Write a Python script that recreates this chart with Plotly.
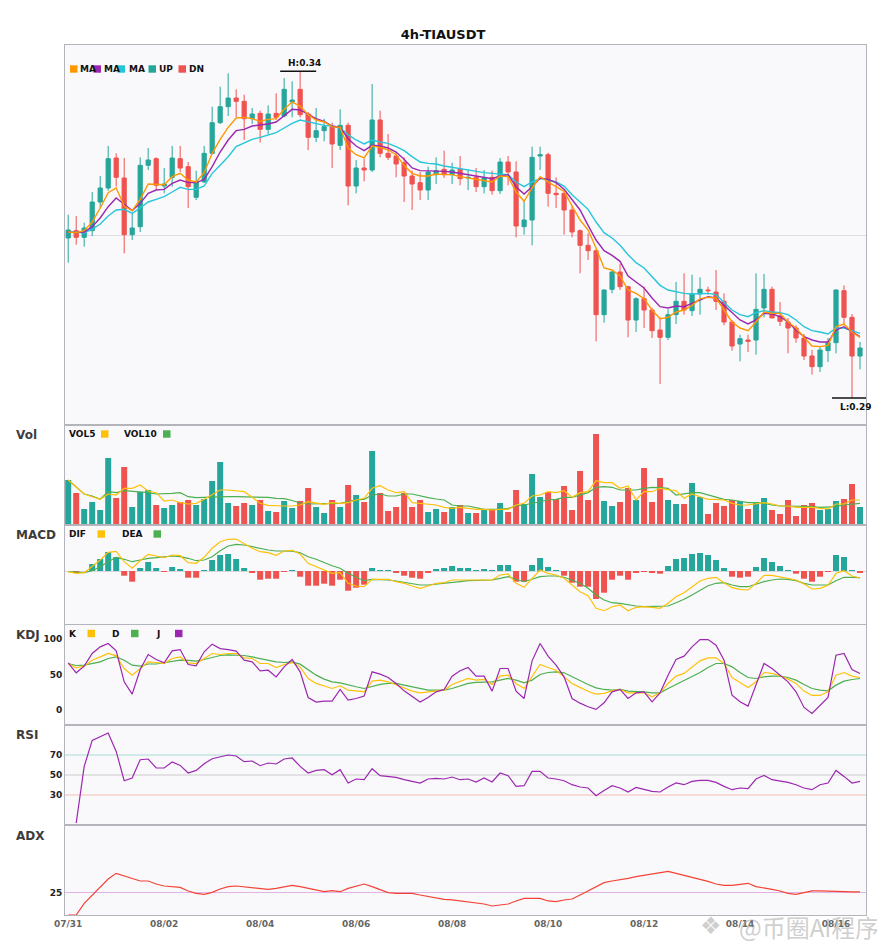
import plotly.graph_objects as go
from plotly.subplots import make_subplots

# 4h candles, 07/31 00:00 -> 08/16 12:00
date_labels = ['07/31', '08/02', '08/04', '08/06', '08/08', '08/10', '08/12', '08/14', '08/16']

opens = [
    .3151, .3162, .3152, .3162, .3205, .3226, .3271, .3241, .3156, .3168,
    .3260, .3270, .3229, .3242, .3270, .3258, .3212, .3235, .3278, .3324,
    .3348, .3361, .3356, .3330, .3338, .3314, .3338, .3334, .3355, .3374,
    .3337, .3302, .3312, .3318, .3290, .3320, .3229, .3256, .3253, .3328,
    .3278, .3274, .3264, .3244, .3234, .3223, .3246, .3254, .3246, .3254,
    .3241, .3242, .3228, .3242, .3222, .3265, .3250, .3168, .3178, .3274,
    .3276, .3218, .3218, .3193, .3162, .3140, .3132, .3036, .3074, .3100,
    .3078, .3028, .3060, .3043, .3013, .3002, .3036, .3056, .3042, .3067,
    .3073, .3070, .3056, .3025, .2992, .2998, .2998, .3046, .3074, .3034,
    .3025, .3016, .3001, .2974, .2958, .2982, .2994, .3072, .3032, .2974,
]
highs = [
    .3186, .3184, .3174, .3220, .3244, .3289, .3278, .3271, .3188, .3272,
    .3286, .3272, .3256, .3289, .3289, .3265, .3252, .3289, .3348, .3378,
    .3398, .3374, .3366, .3346, .3342, .3350, .3368, .3391, .3386, .3401,
    .3340, .3346, .3330, .3324, .3344, .3324, .3268, .3270, .3382, .3342,
    .3307, .3280, .3272, .3252, .3250, .3258, .3272, .3282, .3264, .3274,
    .3253, .3256, .3253, .3252, .3271, .3274, .3266, .3208, .3288, .3288,
    .3279, .3242, .3220, .3200, .3164, .3158, .3134, .3074, .3102, .3112,
    .3079, .3062, .3078, .3046, .3032, .3044, .3085, .3098, .3096, .3092,
    .3078, .3103, .3068, .3028, .3006, .3006, .3098, .3097, .3078, .3055,
    .3031, .3020, .3007, .2983, .2989, .3001, .3074, .3080, .3037, .2995,
]
lows = [
    .3114, .3141, .3138, .3154, .3196, .3222, .3228, .3128, .3148, .3160,
    .3253, .3223, .3218, .3228, .3250, .3196, .3208, .3234, .3276, .3322,
    .3334, .3332, .3298, .3322, .3294, .3306, .3328, .3332, .3332, .3332,
    .3283, .3295, .3296, .3256, .3283, .3200, .3218, .3236, .3250, .3272,
    .3268, .3242, .3205, .3193, .3208, .3208, .3232, .3241, .3232, .3230,
    .3223, .3220, .3218, .3216, .3217, .3230, .3152, .3156, .3140, .3253,
    .3198, .3196, .3156, .3152, .3098, .3118, .2996, .3024, .3068, .3073,
    .3002, .3010, .3016, .3001, .2932, .2998, .3022, .3036, .3034, .3036,
    .3066, .3043, .3020, .2982, .2966, .2980, .2976, .3032, .3031, .3019,
    .2978, .2994, .2968, .2946, .2950, .2965, .2978, .3020, .2911, .2954,
]
closes = [
    .3163, .3152, .3166, .3205, .3226, .3270, .3242, .3156, .3166, .3260,
    .3268, .3230, .3232, .3271, .3256, .3228, .3235, .3278, .3324, .3348,
    .3361, .3356, .3330, .3337, .3314, .3337, .3332, .3374, .3358, .3336,
    .3302, .3312, .3318, .3292, .3320, .3229, .3256, .3253, .3328, .3278,
    .3272, .3262, .3244, .3232, .3223, .3250, .3252, .3246, .3253, .3240,
    .3242, .3228, .3241, .3222, .3265, .3250, .3169, .3178, .3272, .3276,
    .3218, .3216, .3193, .3160, .3140, .3132, .3036, .3073, .3100, .3078,
    .3028, .3060, .3043, .3012, .3002, .3036, .3056, .3043, .3067, .3074,
    .3072, .3056, .3025, .2989, .3000, .2996, .3044, .3074, .3031, .3026,
    .3016, .3001, .2974, .2958, .2983, .2994, .3073, .3032, .2974, .2986,
]

ma5 = [
    .3160, .3159, .3162, .3175, .3196, .3219, .3226, .3199, .3192, .3209,
    .3232, .3232, .3231, .3243, .3248, .3238, .3235, .3249, .3278, .3299,
    .3317, .3331, .3332, .3330, .3326, .3329, .3330, .3344, .3355, .3349,
    .3336, .3328, .3325, .3318, .3317, .3286, .3276, .3271, .3289, .3287,
    .3283, .3276, .3260, .3248, .3244, .3244, .3247, .3246, .3246, .3243,
    .3241, .3239, .3238, .3235, .3244, .3243, .3220, .3206, .3226, .3243,
    .3235, .3228, .3221, .3199, .3178, .3163, .3136, .3106, .3103, .3094,
    .3073, .3068, .3060, .3043, .3030, .3032, .3040, .3043, .3050, .3060,
    .3062, .3061, .3043, .3025, .3016, .3012, .3025, .3040, .3038, .3038,
    .3025, .3016, .3002, .2989, .2988, .2990, .3018, .3022, .3010, .3002,
]
ma10 = [
    .3160, .3159, .3160, .3168, .3181, .3198, .3211, .3202, .3192, .3203,
    .3218, .3223, .3224, .3233, .3238, .3234, .3234, .3239, .3258, .3280,
    .3298, .3312, .3314, .3319, .3320, .3322, .3325, .3334, .3344, .3343,
    .3336, .3330, .3326, .3319, .3317, .3300, .3289, .3282, .3290, .3289,
    .3286, .3280, .3269, .3256, .3252, .3252, .3252, .3251, .3250, .3248,
    .3246, .3243, .3241, .3240, .3244, .3246, .3228, .3217, .3228, .3241,
    .3239, .3234, .3224, .3208, .3193, .3170, .3148, .3132, .3125, .3116,
    .3094, .3085, .3076, .3061, .3048, .3046, .3049, .3048, .3053, .3059,
    .3063, .3061, .3050, .3038, .3028, .3022, .3028, .3038, .3037, .3033,
    .3025, .3013, .3003, .2998, .2995, .2995, .3013, .3018, .3010, .3003,
]
ma20 = [
    .3160, .3159, .3159, .3164, .3172, .3184, .3193, .3194, .3188, .3196,
    .3205, .3209, .3213, .3220, .3227, .3224, .3224, .3229, .3248, .3260,
    .3273, .3288, .3294, .3299, .3302, .3306, .3309, .3316, .3323, .3328,
    .3325, .3323, .3320, .3319, .3316, .3306, .3298, .3292, .3298, .3295,
    .3293, .3288, .3282, .3273, .3265, .3263, .3262, .3259, .3257, .3254,
    .3252, .3250, .3249, .3248, .3247, .3246, .3235, .3228, .3235, .3240,
    .3238, .3235, .3229, .3216, .3205, .3194, .3175, .3159, .3151, .3140,
    .3126, .3114, .3106, .3093, .3080, .3073, .3070, .3068, .3067, .3067,
    .3068, .3066, .3055, .3043, .3036, .3033, .3039, .3042, .3040, .3039,
    .3036, .3028, .3018, .3012, .3010, .3007, .3016, .3016, .3012, .3008,
]

# volume in millions
volume = [
    4.5, 3.2, 1.6, 2.3, 1.5, 6.7, 2.7, 5.8, 1.8, 3.3,
    3.5, 2.0, 1.7, 2.0, 2.3, 2.5, 2.0, 2.6, 4.4, 6.3,
    2.2, 1.9, 2.2, 2.0, 2.5, 1.4, 1.3, 2.4, 1.7, 2.4,
    3.7, 1.8, 1.2, 2.5, 1.8, 4.0, 3.0, 2.3, 7.4, 3.2,
    1.4, 1.8, 3.2, 1.8, 2.5, 1.3, 1.6, 1.3, 1.8, 2.0,
    1.2, 1.2, 1.6, 1.5, 2.2, 1.3, 3.5, 2.1, 5.1, 2.8,
    3.3, 2.6, 3.9, 1.5, 5.4, 2.5, 9.1, 2.4, 1.9, 2.3,
    3.7, 2.5, 5.7, 2.3, 4.7, 2.5, 2.1, 2.1, 4.2, 2.8,
    1.1, 2.2, 1.9, 2.5, 2.4, 1.6, 2.3, 2.7, 1.5, 1.1,
    2.5, 0.9, 2.0, 2.2, 1.5, 1.6, 2.4, 2.6, 4.1, 1.8,
]
vol5 = [
    4.5, 3.83, 3.1, 2.83, 2.57, 3.1, 3.0, 3.67, 3.67, 4.0,
    3.4, 3.23, 2.4, 2.5, 2.23, 2.1, 2.17, 2.57, 3.0, 3.5,
    3.5, 3.43, 3.33, 2.77, 2.17, 1.97, 1.9, 1.9, 1.9, 2.0,
    2.33, 2.23, 2.07, 2.23, 2.17, 2.23, 2.5, 2.67, 3.67, 3.93,
    3.5, 3.23, 3.33, 2.23, 2.17, 2.1, 2.0, 1.77, 1.67, 1.77,
    1.67, 1.57, 1.57, 1.5, 1.57, 1.57, 2.0, 2.17, 2.9, 3.0,
    3.33, 3.23, 3.43, 2.77, 3.23, 3.33, 4.43, 4.23, 4.23, 3.67,
    3.9, 2.5, 3.33, 3.33, 3.67, 3.57, 3.43, 2.67, 3.1, 2.83,
    2.57, 2.57, 2.5, 2.17, 2.0, 2.0, 2.1, 2.23, 2.1, 1.9,
    1.9, 1.77, 1.77, 1.77, 1.67, 1.6, 2.1, 2.1, 2.5, 2.5,
]
vol10 = [
    4.5, 3.83, 3.1, 2.9, 2.57, 3.33, 3.23, 3.43, 3.37, 3.33,
    3.23, 3.1, 3.1, 3.17, 3.23, 2.83, 2.73, 2.77, 2.77, 2.83,
    2.83, 2.83, 2.83, 2.83, 2.83, 2.77, 2.67, 2.63, 2.45, 2.2,
    2.1, 2.1, 2.1, 2.17, 2.17, 2.33, 2.5, 2.57, 3.0, 3.1,
    2.9, 2.9, 3.1, 3.1, 2.9, 2.73, 2.6, 2.5, 2.0, 1.9,
    1.9, 1.77, 1.57, 1.57, 1.57, 1.67, 1.9, 2.0, 2.17, 2.33,
    2.5, 2.57, 2.77, 2.77, 3.0, 3.23, 3.77, 3.83, 3.77, 3.5,
    3.5, 3.5, 3.67, 3.77, 3.73, 3.67, 3.0, 3.1, 3.23, 3.23,
    3.0, 2.83, 2.57, 2.5, 2.33, 2.23, 2.23, 2.17, 2.0, 1.9,
    1.9, 1.9, 1.9, 1.83, 1.77, 1.77, 1.83, 2.0, 2.1, 2.17,
]

# MACD (x1e-3)
macd_hist = [
    0.0, -0.17, 0.0, 0.7, 1.2, 1.9, 1.4, -0.47, -1.07, 0.3,
    0.9, 0.3, -0.05, 0.4, 0.2, -0.67, -0.67, 0.1, 1.1, 1.6,
    1.7, 1.2, 0.3, -0.17, -0.87, -0.77, -0.77, -0.07, 0.1, -0.57,
    -1.47, -1.47, -1.27, -1.47, -0.87, -1.97, -1.67, -1.37, 0.3, 0.1,
    0.03, -0.17, -0.47, -0.67, -0.77, -0.17, 0.2, 0.3, 0.5, 0.3,
    0.3, 0.03, 0.2, 0.03, 0.6, 0.6, -1.07, -1.07, 0.6, 1.3,
    0.4, 0.03, -0.47, -1.17, -1.57, -1.57, -2.8, -2.17, -0.87, -0.47,
    -0.87, -0.17, -0.03, -0.17, -0.27, 0.5, 1.2, 1.3, 1.7, 1.8,
    1.6, 1.1, 0.3, -0.57, -0.67, -0.57, 0.4, 1.3, 0.9, 0.5,
    0.1, -0.27, -0.77, -1.07, -0.57, -0.07, 1.6, 1.4, 0.1, -0.17,
]
dif = [
    -0.07, -0.23, -0.17, 0.43, 1.1, 1.87, 1.97, 0.93, 0.27, 1.03,
    1.67, 1.5, 1.33, 1.6, 1.53, 0.83, 0.77, 1.37, 2.27, 2.93,
    3.17, 3.2, 2.7, 2.27, 1.93, 1.83, 1.57, 2.0, 2.07, 1.7,
    0.77, 0.43, 0.17, -0.23, -0.17, -1.23, -1.5, -1.57, -0.83, -0.8,
    -0.83, -1.07, -1.23, -1.5, -1.73, -1.5, -1.23, -1.17, -0.9, -0.9,
    -0.9, -0.97, -0.9, -0.9, -0.4, -0.3, -1.23, -1.63, -0.73, 0.1,
    -0.23, -0.4, -0.73, -1.4, -2.07, -2.47, -3.73, -3.97, -3.57, -3.4,
    -3.97, -3.63, -3.57, -3.63, -3.73, -3.23, -2.57, -2.17, -1.57, -1.0,
    -0.73, -0.63, -1.17, -1.67, -1.83, -1.9, -1.23, -0.43, -0.43, -0.57,
    -0.73, -0.9, -1.3, -1.8, -1.73, -1.43, -0.23, 0.03, -0.5, -0.7,
]
dea = [
    -0.07, -0.1, -0.17, 0.03, 0.43, 0.93, 1.37, 1.17, 0.93, 1.1,
    1.27, 1.33, 1.43, 1.5, 1.43, 1.27, 1.03, 1.1, 1.43, 2.03,
    2.5, 2.67, 2.6, 2.43, 2.27, 2.1, 2.0, 2.0, 1.98, 1.83,
    1.43, 1.17, 0.83, 0.53, 0.27, -0.23, -0.63, -0.97, -0.83, -0.83,
    -0.9, -1.0, -1.13, -1.3, -1.4, -1.4, -1.33, -1.23, -1.17, -1.07,
    -0.97, -0.97, -0.93, -0.9, -0.73, -0.57, -0.83, -1.07, -0.83, -0.57,
    -0.5, -0.5, -0.63, -0.9, -1.23, -1.73, -2.4, -2.9, -3.17, -3.23,
    -3.4, -3.5, -3.57, -3.57, -3.57, -3.5, -3.17, -2.83, -2.4, -1.9,
    -1.47, -1.23, -1.17, -1.4, -1.57, -1.57, -1.3, -1.07, -0.9, -0.8,
    -0.83, -0.97, -1.23, -1.4, -1.4, -1.4, -0.97, -0.63, -0.63, -0.67,
]

k_line = [
    65.7, 59.6, 62, 70.4, 75, 79.8, 76.5, 58.7, 49.3, 58.7,
    68, 67.1, 65.7, 72.8, 75, 66.7, 65.7, 72.8, 79.8, 78.4,
    79.8, 79.8, 73.7, 72.8, 65.7, 65.7, 60.1, 64.3, 67, 61,
    44.6, 37.6, 34.3, 30.5, 34.3, 28.2, 27.2, 25.8, 40.8, 42.3,
    39.9, 35.2, 30.5, 26.8, 24.4, 25.4, 27.2, 28.2, 36.2, 39.9,
    44.6, 42.3, 43.2, 36.2, 47.9, 49.3, 37.6, 30.5, 47.9, 64.3,
    60.1, 56.3, 46.9, 37.6, 32, 26.5, 22.5, 23.5, 27.2, 29.1,
    24.4, 24.4, 24.4, 18.8, 24.4, 37.6, 47.9, 51.7, 61, 69.5,
    73.7, 73.7, 65.7, 46, 39, 32, 39.9, 53, 51.7, 48.4,
    43.7, 37.6, 26.8, 20.7, 20.7, 25.8, 49.3, 53, 47.9, 46,
]
d_line = [
    65.7, 62.9, 63.4, 65.7, 68, 72.8, 75, 70.4, 63.4, 62,
    65, 65, 66.7, 69.1, 70.4, 70, 69.1, 71.4, 74.2, 77,
    77.9, 77.9, 77, 75, 72.8, 70.4, 68, 67.1, 68, 64.8,
    57.3, 49.3, 43.7, 39.9, 38.5, 35.2, 32.9, 30.5, 33.8, 36.2,
    37.6, 37.6, 35.2, 32.9, 30.5, 28.2, 28.2, 28.2, 30.5, 34.3,
    37.6, 39, 39.9, 39.9, 42.3, 44.6, 42.3, 38.5, 42.3, 50.2,
    53, 54, 52.6, 46.9, 42.3, 36, 31.4, 29.1, 28.2, 29.1,
    26.8, 26.8, 25.8, 24.4, 24.4, 30.5, 36.2, 40.8, 46.9, 53,
    60.1, 65.7, 65.7, 61, 53, 46, 44.6, 46.9, 47.9, 47.9,
    46, 42.3, 36.2, 30.5, 28.2, 27.2, 35.2, 40.8, 43.2, 44.6,
]
j_line = [
    66.7, 52.6, 62, 79.8, 89.2, 93.9, 83.6, 39.9, 22.5, 57.3,
    78.4, 71.4, 66.7, 83.6, 85.4, 64.3, 62.4, 82.2, 93, 86.8,
    85.4, 83.1, 70.4, 68, 55.4, 56.3, 46.9, 61, 71.4, 54,
    17.8, 11.3, 12.7, 12.7, 29.1, 14.1, 16.4, 19.7, 54, 50.7,
    46, 37.6, 27.2, 18.8, 11.3, 17.8, 25.8, 29.1, 47.9, 55.4,
    60.1, 47.9, 47.9, 26.8, 58.7, 58.7, 26.8, 16.4, 69.5, 93.9,
    76.1, 63.4, 46.9, 16.4, 9.8, 4.7, 1, 10.3, 25.8, 29.1,
    16.4, 24.4, 25.8, 11.7, 24.4, 49.3, 71.4, 76.1, 89.2, 99.5,
    99.5, 91.5, 70.4, 21.1, 11.7, 5.6, 35.2, 65.7, 58.7, 49.3,
    39.9, 25.8, 3.8, -4.6, 7, 17.8, 77.5, 79.8, 57.3, 51.7,
]

rsi = [
    None, 2, 58.6, 84.6, 88, 92, 73.6, 44.3, 47, 65.3,
    66, 57, 57, 63, 59.6, 52, 54.6, 61.3, 66.3, 68.3,
    70, 69, 63.3, 64, 59.3, 62, 61, 66, 67, 58.6,
    52, 54.6, 55.3, 50.3, 55.3, 42, 46, 45.3, 56.3, 49.3,
    48.6, 47.6, 45.3, 43.3, 42, 46, 46.6, 46, 48, 45.3,
    46, 43, 47, 43, 52, 49.3, 38.6, 39.3, 53.6, 53.6,
    47, 46, 44.3, 40.3, 38, 37, 29.3, 34.6, 39.3, 37,
    33, 37.6, 35.3, 33.6, 33, 38, 42, 40.3, 43.6, 44.6,
    44.6, 42.6, 38.6, 35.3, 37, 36.3, 46, 49.6, 45.3, 44,
    42.6, 40.3, 37, 35.3, 40.3, 42, 54.6, 48.6, 42, 43.6,
]
adx = [
    0, 0, 13, 22.2, 31.5, 40, 46.3, 43.3, 40, 37.8,
    37.8, 34.4, 32.2, 31.1, 30.7, 26.7, 24.1, 23, 25.2, 28.9,
    31.5, 32.2, 31.1, 30.7, 29.6, 28.5, 29.6, 31.5, 33, 31.5,
    29.6, 27.8, 25.9, 27, 25.9, 29.6, 32.2, 34.4, 31.5, 28.5,
    24.8, 24.1, 24.1, 24.1, 22.2, 20.4, 18.5, 17.4, 16.7, 15.6,
    14.4, 13.3, 12.2, 10, 11.1, 12.2, 15.6, 18.5, 18.5, 18.5,
    15.6, 14.8, 16.7, 17.8, 22.2, 26.5, 31.5, 35.9, 37.8, 38.9,
    40.7, 42.6, 44.1, 45.2, 47, 48.5, 46.3, 44.1, 41.9, 39.6,
    37.4, 34.4, 33, 33, 34.1, 35.2, 31.5, 29.6, 28.5, 26.7,
    24.1, 23, 24.8, 26.7, 26.7, 26.3, 25.6, 25.6, 25.6, 25.6,
]

# colours
UP = '#26a69a'
DN = '#ef5350'
ORANGE = '#ff9800'
PURPLE = '#9c27b0'
CYAN = '#26c6da'
YELLOW = '#ffc107'
GREEN = '#4caf50'
FRAME = '#b4b4bc'
BG = '#f9f9fb'
FONT = 'DejaVu Sans'

W, H = 885, 950
ML, MR, MT, MB = 57, 27, 37, 43
PAGE = 8  # body margin of the html page


def px_x(x):
    return (x - PAGE - ML) / (W - ML - MR)


def px_y(y):
    return (H - MB - (y - PAGE)) / (H - MT - MB)


n = len(closes)
idx = list(range(n))

fig = make_subplots(rows=6, cols=1, shared_xaxes=True, vertical_spacing=0,
                    row_heights=[380, 100, 100, 100, 100, 90])

# price
fig.add_trace(go.Candlestick(
    x=idx, open=opens, high=highs, low=lows, close=closes,
    increasing=dict(line=dict(color=UP, width=1), fillcolor=UP),
    decreasing=dict(line=dict(color=DN, width=1), fillcolor=DN),
    whiskerwidth=0, showlegend=False), row=1, col=1)
for series, color in [(ma20, CYAN), (ma10, PURPLE), (ma5, ORANGE)]:
    fig.add_trace(go.Scatter(x=idx, y=series, mode='lines',
                             line=dict(color=color, width=1.4)), row=1, col=1)

# volume
vol_colors = [UP if c >= o else DN for o, c in zip(opens, closes)]
fig.add_trace(go.Bar(x=idx, y=volume, marker_color=vol_colors, marker_line_width=0,
                     width=0.75), row=2, col=1)
fig.add_trace(go.Scatter(x=idx, y=vol10, mode='lines', line=dict(color=GREEN, width=1.2)), row=2, col=1)
fig.add_trace(go.Scatter(x=idx, y=vol5, mode='lines', line=dict(color=YELLOW, width=1.2)), row=2, col=1)

# MACD
hist_colors = [UP if v >= 0 else DN for v in macd_hist]
fig.add_trace(go.Bar(x=idx, y=macd_hist, marker_color=hist_colors, marker_line_width=0,
                     width=0.75), row=3, col=1)
fig.add_trace(go.Scatter(x=idx, y=dea, mode='lines', line=dict(color=GREEN, width=1.2)), row=3, col=1)
fig.add_trace(go.Scatter(x=idx, y=dif, mode='lines', line=dict(color=YELLOW, width=1.2)), row=3, col=1)

# KDJ
fig.add_trace(go.Scatter(x=idx, y=d_line, mode='lines', line=dict(color=GREEN, width=1.2)), row=4, col=1)
fig.add_trace(go.Scatter(x=idx, y=k_line, mode='lines', line=dict(color=YELLOW, width=1.2)), row=4, col=1)
fig.add_trace(go.Scatter(x=idx, y=j_line, mode='lines', line=dict(color=PURPLE, width=1.2)), row=4, col=1)

# RSI
fig.add_trace(go.Scatter(x=idx, y=rsi, mode='lines', line=dict(color=PURPLE, width=1.2)), row=5, col=1)

# ADX
fig.add_trace(go.Scatter(x=idx, y=adx, mode='lines', line=dict(color='#f44336', width=1.2)), row=6, col=1)

# reference lines
for row, yv, col in [(4, 100, '#a9dcd7'), (4, 50, '#cccccc'), (4, 0, '#f9b9b9'),
                     (5, 70, '#a9dcd7'), (5, 50, '#cccccc'), (5, 30, '#f9b9b9'),
                     (6, 25, '#dfb3e6')]:
    fig.add_hline(y=yv, line=dict(color=col, width=1), layer='below', row=row, col=1)

tick_font = dict(family=FONT, size=9, color='#222', weight='bold')
axis_common = dict(showline=True, mirror=True, linecolor=FRAME, linewidth=1,
                   zeroline=False, ticks='', showspikes=False)

for r in range(1, 7):
    fig.update_xaxes(range=[-0.4, n - 0.25], showgrid=False, rangeslider_visible=False,
                     row=r, col=1, **axis_common)
fig.update_xaxes(tickvals=[i * 12 for i in range(len(date_labels))], ticktext=date_labels,
                 tickfont=dict(family=FONT, size=9, color='#666', weight='bold'),
                 row=6, col=1)

fig.update_yaxes(range=[0.28705, 0.34405], tickvals=[0.31555], showticklabels=False,
                 showgrid=True, gridcolor='#dcdce4', row=1, col=1, **axis_common)
fig.update_yaxes(range=[0, 10], showticklabels=False, showgrid=False, row=2, col=1, **axis_common)
fig.update_yaxes(range=[-5.4, 4.6], tickvals=[0], showticklabels=False, showgrid=True,
                 gridcolor='#d8d8dc', row=3, col=1, **axis_common)
fig.update_yaxes(range=[-21, 120], tickvals=[0, 50, 100], showgrid=False, tickfont=tick_font,
                 row=4, col=1, **axis_common)
fig.update_yaxes(range=[0, 100], tickvals=[30, 50, 70], showgrid=False, tickfont=tick_font,
                 row=5, col=1, **axis_common)
fig.update_yaxes(range=[0, 100], tickvals=[25], showgrid=False, tickfont=tick_font,
                 row=6, col=1, **axis_common)

# high / low markers
hi = max(highs)
hi_i = highs.index(hi)
lo = min(lows)
lo_i = lows.index(lo)
for i, v, anchor, shift, txt in [(hi_i, hi, 'bottom', 1, f'H:{hi:.2f}'),
                                 (lo_i, lo, 'top', -2, f'L:{lo:.2f}')]:
    fig.add_shape(type='line', x0=i - 2.5, x1=i + 2, y0=v, y1=v, xref='x', yref='y',
                  line=dict(color='#111', width=1.5))
    fig.add_annotation(x=i + 0.5, y=v, xref='x', yref='y', text=f'<b>{txt}</b>',
                       showarrow=False, yanchor=anchor, yshift=shift,
                       font=dict(family=FONT, size=9, color='#111'))


def square(x0, yc, color):
    fig.add_shape(type='rect', xref='paper', yref='paper',
                  x0=px_x(x0), x1=px_x(x0 + 7.5), y0=px_y(yc + 3.7), y1=px_y(yc - 3.7),
                  fillcolor=color, line_width=0)


def label(x, yc, text, size=9, color='#111'):
    fig.add_annotation(xref='paper', yref='paper', x=px_x(x), y=px_y(yc), text=f'<b>{text}</b>',
                       showarrow=False, xanchor='left', yanchor='middle',
                       font=dict(family=FONT, size=size, color=color), borderpad=0)


# legends
for x, item in [(70, ORANGE), (93.5, PURPLE), (117.5, CYAN), (148.5, UP), (178.5, DN)]:
    square(x, 69, item)
for x, t in [(79, 'MA'), (103, 'MA'), (128, 'MA'), (157.5, 'UP'), (187.5, 'DN')]:
    label(x, 69, t)

label(68, 434, 'VOL5')
square(101, 434, YELLOW)
label(123, 434, 'VOL10')
square(163, 434, GREEN)

label(68, 534, 'DIF')
square(97.5, 534, YELLOW)
label(121, 534, 'DEA')
square(153.5, 534, GREEN)

label(68, 633.5, 'K')
square(87.5, 633.5, YELLOW)
label(111, 633.5, 'D')
square(131, 633.5, GREEN)
label(155, 633.5, 'J')
square(175, 633.5, PURPLE)

for yc, name in [(435, 'Vol'), (535, 'MACD'), (635, 'KDJ'), (735, 'RSI'), (836, 'ADX')]:
    label(15, yc, name, size=12, color='#3c3c3c')

# watermark
WM = 'rgba(165,165,165,0.55)'
fig.add_annotation(xref='paper', yref='paper', x=px_x(711), y=px_y(926), text='❖',
                   showarrow=False, xanchor='center', yanchor='middle',
                   font=dict(family='DejaVu Sans', size=24, color=WM))
fig.add_annotation(xref='paper', yref='paper', x=px_x(881), y=px_y(926), text='@币圈AI程序',
                   showarrow=False, xanchor='right', yanchor='middle',
                   font=dict(family='Noto Sans CJK SC', size=24, color=WM))

fig.update_layout(
    width=W, height=H, autosize=False,
    margin=dict(l=ML, r=MR, t=MT, b=MB),
    paper_bgcolor='white', plot_bgcolor=BG,
    showlegend=False, boxgap=0.25, bargap=0.25,
    title=dict(text='<b>4h-TIAUSDT</b>', x=(443 - PAGE) / W, xanchor='center',
               y=1 - (34 - PAGE) / H, yanchor='middle',
               font=dict(family=FONT, size=13, color='#111')),
    hovermode=False,
)

fig.write_html('out.html', config={'displayModeBar': False})
